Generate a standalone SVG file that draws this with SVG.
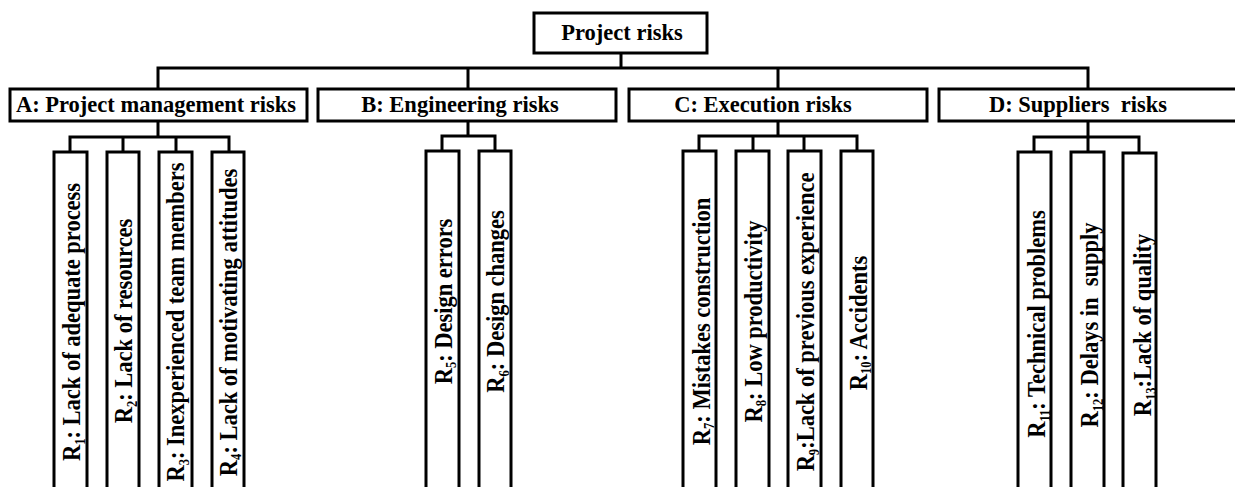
<svg xmlns="http://www.w3.org/2000/svg" width="1235" height="487" viewBox="0 0 1235 487">
<style>
  .box { fill: #fff; stroke: #000; stroke-width: 3; }
  .ln { fill: none; stroke: #000; stroke-width: 3; stroke-linecap: square; }
  .t { font-family: "Liberation Serif", "Times New Roman", serif; font-weight: bold; font-size: 22.5px; fill: #000; text-anchor: middle; white-space: pre; }
  .v { font-family: "Liberation Serif", "Times New Roman", serif; font-weight: bold; font-size: 25px; fill: #000; text-anchor: middle; white-space: pre; }
  .sub { font-size: 14px; }
</style>
<rect width="1235" height="487" fill="#fff"/>
<g id="connectors">
  <path class="ln" d="M621 53 V68 M158 68 H1088 M158 68 V89 M468 68 V89 M778 68 V89 M1088 68 V89"/>
  <path class="ln" d="M158 121 V137 M70 137 H229 M70 137 V152 M123 137 V152 M176 137 V152 M229 137 V152"/>
  <path class="ln" d="M468 121 V136 M442 136 H495 M442 136 V151 M495 136 V151"/>
  <path class="ln" d="M778 121 V136 M699 136 H857 M699 136 V151 M753 136 V151 M804 136 V151 M857 136 V151"/>
  <path class="ln" d="M1088 121 V137 M1034 137 H1139 M1034 137 V152 M1088 137 V152 M1139 137 V152"/>
</g>
<g id="root"><rect class="box" x="534" y="13" width="173" height="40"/><text class="t" x="622" y="40">Project risks</text></g>
<g id="A"><rect class="box" x="10" y="89" width="297" height="32"/><text class="t" x="156" y="112">A: Project management risks</text></g>
<g id="B"><rect class="box" x="318" y="89" width="298" height="32"/><text class="t" x="460" y="112">B: Engineering risks</text></g>
<g id="C"><rect class="box" x="629" y="89" width="298" height="32"/><text class="t" x="763" y="112">C: Execution risks</text></g>
<g id="D"><rect class="box" x="939" y="89" width="300" height="32"/><text class="t" x="1078" y="112">D: Suppliers  risks</text></g>

<g id="R1"><rect class="box" x="54" y="152" width="33" height="345"/><text class="v" transform="translate(80,322) rotate(-90) scale(0.9,1)">R<tspan class="sub" dy="4.5">1</tspan><tspan dy="-4.5">: Lack of adequate process</tspan></text></g>
<g id="R2"><rect class="box" x="107" y="152" width="32" height="345"/><text class="v" transform="translate(132,321) rotate(-90) scale(0.9,1)">R<tspan class="sub" dy="4.5">2</tspan><tspan dy="-4.5">: Lack of resources</tspan></text></g>
<g id="R3"><rect class="box" x="159" y="152" width="33" height="345"/><text class="v" transform="translate(184,322) rotate(-90) scale(0.9,1)">R<tspan class="sub" dy="4.5">3</tspan><tspan dy="-4.5">: Inexperienced team members</tspan></text></g>
<g id="R4"><rect class="box" x="212" y="152" width="32" height="345"/><text class="v" transform="translate(236.5,322.5) rotate(-90) scale(0.9,1)">R<tspan class="sub" dy="4.5">4</tspan><tspan dy="-4.5">: Lack of motivating attitudes</tspan></text></g>

<g id="R5"><rect class="box" x="426" y="151" width="33" height="346"/><text class="v" transform="translate(451.5,301.5) rotate(-90) scale(0.9,1)">R<tspan class="sub" dy="4.5">5</tspan><tspan dy="-4.5">: Design errors</tspan></text></g>
<g id="R6"><rect class="box" x="479" y="151" width="32" height="346"/><text class="v" transform="translate(504,301.5) rotate(-90) scale(0.9,1)">R<tspan class="sub" dy="4.5">6</tspan><tspan dy="-4.5">: Design changes</tspan></text></g>

<g id="R7"><rect class="box" x="683" y="151" width="33" height="346"/><text class="v" transform="translate(709.5,321.5) rotate(-90) scale(0.9,1)">R<tspan class="sub" dy="4.5">7</tspan><tspan dy="-4.5">: Mistakes construction</tspan></text></g>
<g id="R8"><rect class="box" x="736" y="151" width="33" height="346"/><text class="v" transform="translate(761.5,321.5) rotate(-90) scale(0.9,1)">R<tspan class="sub" dy="4.5">8</tspan><tspan dy="-4.5">: Low productivity</tspan></text></g>
<g id="R9"><rect class="box" x="788" y="151" width="33" height="346"/><text class="v" transform="translate(814,322) rotate(-90) scale(0.9,1)">R<tspan class="sub" dy="4.5">9</tspan><tspan dy="-4.5">:Lack of previous experience</tspan></text></g>
<g id="R10"><rect class="box" x="841" y="151" width="32" height="346"/><text class="v" transform="translate(866.5,323) rotate(-90) scale(0.9,1)">R<tspan class="sub" dy="4.5">10</tspan><tspan dy="-4.5">: Accidents</tspan></text></g>

<g id="R11"><rect class="box" x="1018" y="152" width="33" height="345"/><text class="v" transform="translate(1045,324) rotate(-90) scale(0.9,1)">R<tspan class="sub" dy="4.5">11</tspan><tspan dy="-4.5">: Technical problems</tspan></text></g>
<g id="R12"><rect class="box" x="1071" y="152" width="33" height="345"/><text class="v" transform="translate(1098,325) rotate(-90) scale(0.9,1)">R<tspan class="sub" dy="4.5">12</tspan><tspan dy="-4.5">: Delays in  supply</tspan></text></g>
<g id="R13"><rect class="box" x="1123" y="153" width="33" height="344"/><text class="v" transform="translate(1151,325) rotate(-90) scale(0.9,1)">R<tspan class="sub" dy="4.5">13</tspan><tspan dy="-4.5">:Lack of quality</tspan></text></g>
</svg>
